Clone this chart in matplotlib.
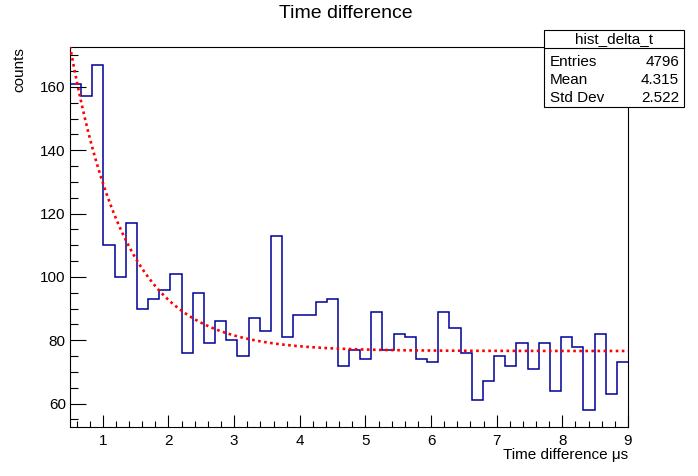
import numpy as np
import matplotlib.pyplot as plt
from matplotlib.patches import Rectangle
from matplotlib.lines import Line2D
from matplotlib.ticker import MultipleLocator

plt.rcParams["font.family"] = ["Liberation Sans", "DejaVu Sans"]

# histogram: 50 bins from 0.5 to 9 us
BIN_LOW = 0.5
BIN_HIGH = 9.0
COUNTS = [
    161, 157, 167, 110, 100, 117, 90, 93, 96, 101,
    76, 95, 79, 86, 80, 75, 87, 83, 113, 81,
    88, 88, 92, 93, 72, 77, 74, 89, 77, 82,
    81, 74, 73, 89, 84, 76, 61, 67, 75, 72,
    79, 71, 79, 64, 81, 78, 58, 82, 63, 73,
]

# fit: A * exp(-t / tau) + C
FIT_A = 174.6
FIT_TAU = 0.84
FIT_C = 76.6

STATS_NAME = "hist_delta_t"
STATS_ROWS = [("Entries", "4796"), ("Mean", "4.315"), ("Std Dev", "2.522")]

W, H = 698, 476


def fx(px):
    return px / W


def fy(py):
    return 1 - py / H


fig = plt.figure(figsize=(W / 100, H / 100), dpi=100)
fig.patch.set_facecolor("white")
ax = fig.add_axes([fx(70), fy(427), (628 - 70) / W, (427 - 47) / H])

edges = np.linspace(BIN_LOW, BIN_HIGH, len(COUNTS) + 1)
ax.stairs(COUNTS, edges, baseline=None, color="#000099", lw=1.1, zorder=3)

t = np.linspace(BIN_LOW, BIN_HIGH, 600)
ax.plot(t, FIT_A * np.exp(-t / FIT_TAU) + FIT_C, color="#ff0000", lw=1.9,
        linestyle=(0, (1.0, 1.3)), zorder=4)

ax.set_xlim(BIN_LOW, BIN_HIGH)
ax.set_ylim(52.6, 172.6)
ax.xaxis.set_major_locator(MultipleLocator(1))
ax.xaxis.set_minor_locator(MultipleLocator(0.2))
ax.yaxis.set_major_locator(MultipleLocator(20))
ax.yaxis.set_minor_locator(MultipleLocator(5))
ax.tick_params(axis="x", which="major", direction="in", length=8.6, width=0.8,
               labelsize=11, pad=5, top=False)
ax.tick_params(axis="x", which="minor", direction="in", length=4.3, width=0.8, top=False)
ax.tick_params(axis="y", which="major", direction="in", length=11.5, width=0.8,
               labelsize=11, pad=3, right=False)
ax.tick_params(axis="y", which="minor", direction="in", length=5.8, width=0.8, right=False)
for s in ax.spines.values():
    s.set_linewidth(0.8)

fig.text(fx(346), fy(14), "Time difference", ha="center", va="center", fontsize=14)
fig.text(fx(628), fy(455), "Time difference μs", ha="right", va="center", fontsize=11)
fig.text(fx(19.5), fy(47), "counts", ha="center", va="top", rotation=90, fontsize=11)

# stats box
bx0, bx1, by0, by1 = 544, 684, 30, 107
fig.patches.append(Rectangle((fx(bx0), fy(by1)), (bx1 - bx0) / W, (by1 - by0) / H,
                             transform=fig.transFigure, facecolor="white",
                             edgecolor="black", lw=0.8, zorder=5))
fig.lines.append(Line2D([fx(bx0), fx(bx1)], [fy(48.3), fy(48.3)],
                        transform=fig.transFigure, color="black", lw=0.8, zorder=6))
fig.text(fx((bx0 + bx1) / 2), fy(39.5), STATS_NAME, ha="center", va="center",
         fontsize=11, zorder=7)
for i, (name, val) in enumerate(STATS_ROWS):
    yy = fy(61.5 + i * 18.5)
    fig.text(fx(550), yy, name, ha="left", va="center", fontsize=11, zorder=7)
    fig.text(fx(679), yy, val, ha="right", va="center", fontsize=11, zorder=7)

fig.savefig("out.png", dpi=100)
